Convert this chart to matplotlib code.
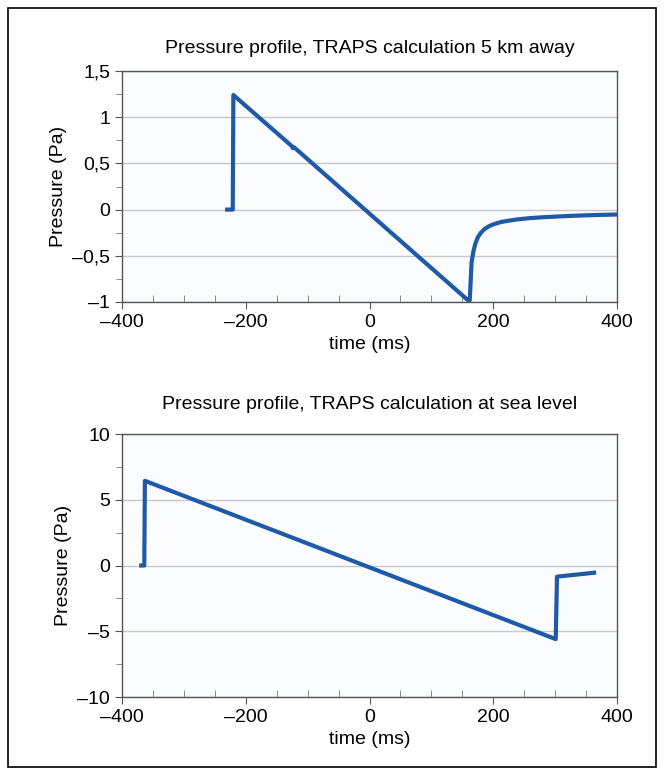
import matplotlib
matplotlib.use("Agg")
import matplotlib.pyplot as plt
from matplotlib.ticker import MultipleLocator, FuncFormatter
from matplotlib.patches import Rectangle

# 5 km away profile (time in ms, pressure in Pa)
t_far = [-230, -221, -220, -126, -124, -122, 159, 162, 165, 168, 171, 175, 180, 186, 193, 200,
         212, 225, 240, 260, 280, 300, 325, 350, 375, 400]
p_far = [0.0, 0.0, 1.24, 0.69, 0.665, 0.675, -0.98, -0.98, -0.57, -0.45, -0.37, -0.30, -0.25,
         -0.21, -0.18, -0.16, -0.135, -0.12, -0.105, -0.092, -0.083, -0.076, -0.068, -0.062,
         -0.057, -0.053]

# sea level profile
t_sea = [-369, -364, -363, 301, 303, 363]
p_sea = [0.0, 0.0, 6.44, -5.6, -0.85, -0.55]

x_ticks = [-400, -200, 0, 200, 400]
y_ticks_far = [-1, -0.5, 0, 0.5, 1, 1.5]
y_ticks_sea = [-10, -5, 0, 5, 10]

plt.rcParams['font.family'] = ['Liberation Sans', 'DejaVu Sans']
plt.rcParams['axes.unicode_minus'] = True

LINE = '#1f5aa8'
fig = plt.figure(figsize=(6.64, 7.75), dpi=100)
fig.patches.append(Rectangle((8 / 664, 8 / 775), 648 / 664, 759 / 775, transform=fig.transFigure,
                             fill=False, edgecolor='black', linewidth=1.2))


def comma(v, pos):
    s = f"{v:g}".replace('.', ',')
    return s.replace('-', '\u2013')


def style(ax, yt, ymin, ymax, yminor, title, tpad):
    ax.set_facecolor('#fbfcfe')
    ax.set_xlim(-400, 400)
    ax.set_ylim(ymin, ymax)
    ax.set_xticks(x_ticks)
    ax.set_yticks(yt)
    ax.xaxis.set_minor_locator(MultipleLocator(50))
    ax.yaxis.set_minor_locator(MultipleLocator(yminor))
    ax.xaxis.set_major_formatter(FuncFormatter(comma))
    ax.yaxis.set_major_formatter(FuncFormatter(comma))
    ax.grid(axis='y', which='major', color='#c8c8cc', linewidth=1.0)
    ax.set_axisbelow(True)
    for sp in ax.spines.values():
        sp.set_color('#555555')
        sp.set_linewidth(1.0)
    ax.tick_params(which='major', direction='out', length=5, labelsize=14, color='#555555')
    ax.tick_params(axis='x', which='minor', direction='in', length=5, color='#777777')
    ax.tick_params(axis='y', which='minor', direction='out', length=4, color='#777777')
    ax.tick_params(top=False, right=False, which='both')
    ax.set_title(title, fontsize=14, pad=tpad)
    ax.set_xlabel('time (ms)', fontsize=14, labelpad=4)
    ax.set_ylabel('Pressure (Pa)', fontsize=14, labelpad=4)


ax1 = fig.add_axes([122 / 664, 1 - 302 / 775, 495 / 664, 231 / 775])
ax1.plot(t_far, p_far, color=LINE, linewidth=3, solid_joinstyle='round')
style(ax1, y_ticks_far, -1, 1.5, 0.25, 'Pressure profile, TRAPS calculation 5 km away', 13)

ax2 = fig.add_axes([122 / 664, 1 - 697 / 775, 495 / 664, 263 / 775])
ax2.plot(t_sea, p_sea, color=LINE, linewidth=3, solid_joinstyle='round')
style(ax2, y_ticks_sea, -10, 10, 2.5, 'Pressure profile, TRAPS calculation at sea level', 18)

fig.savefig('out.png', dpi=100)
